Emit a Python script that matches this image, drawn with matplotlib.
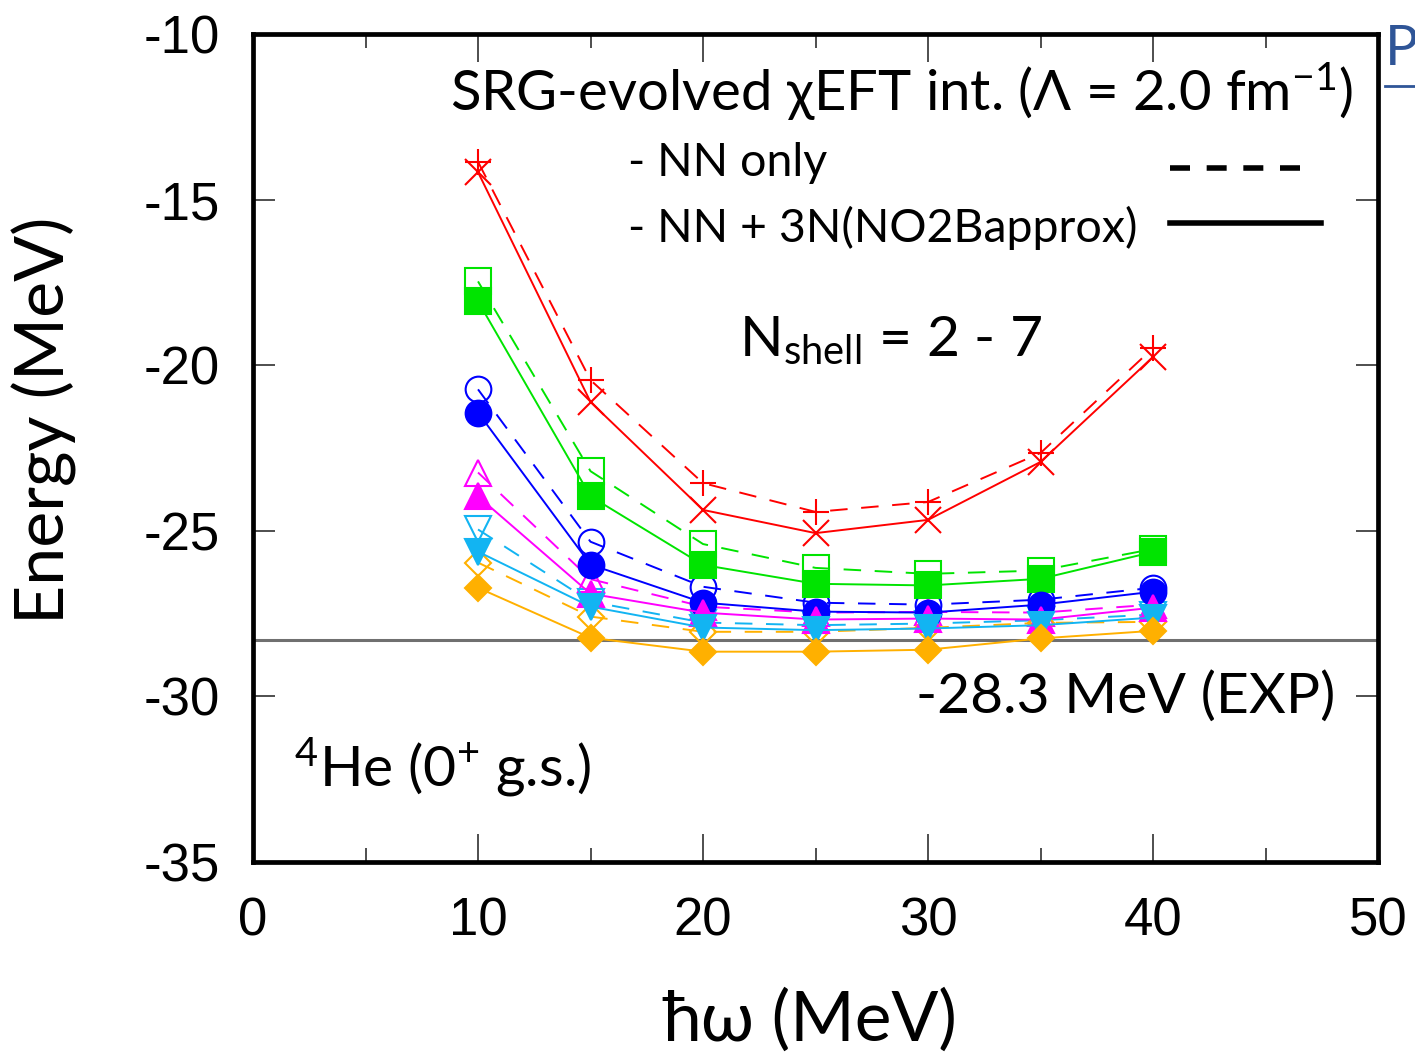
import matplotlib
matplotlib.use("Agg")
import matplotlib.pyplot as plt
from matplotlib.lines import Line2D

plt.rcParams["mathtext.fontset"] = "custom"
plt.rcParams["mathtext.rm"] = "Lato"
plt.rcParams["mathtext.it"] = "Lato:italic"
plt.rcParams["mathtext.bf"] = "Lato:bold"
plt.rcParams["axes.unicode_minus"] = False

TEXT_FONT = ["Lato", "DejaVu Sans"]
TICK_FONT = ["Liberation Sans", "DejaVu Sans"]

# hbar*omega (MeV)
hw = [10, 15, 20, 25, 30, 35, 40]

# NN only (dashed, open markers) and NN + 3N (solid, filled markers), Nshell = 2..7
nn_2 = [-13.86, -20.45, -23.56, -24.43, -24.13, -22.65, -19.48]
n3_2 = [-14.17, -21.11, -24.37, -25.07, -24.67, -22.92, -19.75]
nn_3 = [-17.47, -23.20, -25.40, -26.12, -26.30, -26.20, -25.55]
n3_3 = [-18.07, -23.96, -26.03, -26.60, -26.65, -26.45, -25.64]
nn_4 = [-20.73, -25.33, -26.69, -27.17, -27.23, -27.08, -26.72]
n3_4 = [-21.43, -26.02, -27.17, -27.44, -27.47, -27.23, -26.84]
nn_5 = [-23.24, -26.46, -27.29, -27.47, -27.45, -27.47, -27.23]
n3_5 = [-23.96, -26.90, -27.47, -27.68, -27.65, -27.68, -27.32]
nn_6 = [-24.96, -27.14, -27.77, -27.85, -27.80, -27.70, -27.53]
n3_6 = [-25.63, -27.29, -27.92, -28.00, -27.95, -27.85, -27.62]
nn_7 = [-25.96, -27.59, -28.05, -28.05, -27.93, -27.78, -27.75]
n3_7 = [-26.72, -28.23, -28.65, -28.65, -28.59, -28.25, -28.02]

exp_energy = -28.3

shells = [
    (nn_2, n3_2, "#ff0000", "+", "x"),
    (nn_3, n3_3, "#00e400", "s", "s"),
    (nn_4, n3_4, "#0000ff", "o", "o"),
    (nn_5, n3_5, "#ff00ff", "^", "^"),
    (nn_6, n3_6, "#12b4f2", "v", "v"),
    (nn_7, n3_7, "#ffb000", "D", "D"),
]

fig = plt.figure(figsize=(14.15, 10.53), dpi=100)
ax = fig.add_axes([0.1788, 0.1814, 0.7951, 0.7863])

ax.axhline(exp_energy, color="#707070", lw=2.2, zorder=1)

dash = (0, (9, 7))
for nn, n3, color, m_nn, m_n3 in shells:
    ms = 13 if m_nn == "D" else 18.5
    ax.plot(hw, nn, color=color, lw=1.4, linestyle=dash, marker=m_nn, ms=ms,
            mfc="none", mec=color, mew=1.5, zorder=2)
    ms = 13 if m_n3 == "D" else 18.5
    ax.plot(hw, n3, color=color, lw=1.4, linestyle="-", marker=m_n3, ms=ms,
            mfc=color, mec=color, mew=1.5, zorder=3)

ax.set_xlim(0, 50)
ax.set_ylim(-35, -10)
ax.set_xticks(range(0, 51, 10))
ax.set_xticks(range(5, 50, 10), minor=True)
ax.set_yticks(range(-35, -9, 5))
ax.tick_params(axis="both", which="both", direction="in", top=True, right=True,
               color="#404040", width=1.3)
ax.tick_params(axis="x", which="major", length=20, pad=25)
ax.tick_params(axis="x", which="minor", length=10)
ax.tick_params(axis="y", which="major", length=16, pad=24)
for lab in ax.get_xticklabels() + ax.get_yticklabels():
    lab.set_fontfamily(TICK_FONT)
    lab.set_fontsize(38)
for sp in ax.spines.values():
    sp.set_linewidth(3.4)

ax.set_ylabel("Energy (MeV)", family=TEXT_FONT, fontsize=49, va="center")
ax.yaxis.set_label_coords(-0.185, 0.533)
ax.set_xlabel("ħω (MeV)", family=TEXT_FONT, fontsize=50, va="center")
ax.xaxis.set_label_coords(0.495, -0.191)

ax.text(0.175, 0.93, r"SRG-evolved χEFT int. (Λ = 2.0 fm$^{\mathrm{-1}}$)",
        transform=ax.transAxes, family=TEXT_FONT, fontsize=40.5, va="center", ha="left")
ax.text(0.333, 0.844, "- NN only", transform=ax.transAxes, family=TEXT_FONT,
        fontsize=33.5, va="center", ha="left")
ax.text(0.333, 0.766, "- NN + 3N(NO2Bapprox)", transform=ax.transAxes, family=TEXT_FONT,
        fontsize=33.5, va="center", ha="left")
ax.add_line(Line2D([0.815, 0.937], [0.838, 0.838], transform=ax.transAxes,
                   color="black", lw=4, linestyle=(0, (3.6, 3.0))))
ax.add_line(Line2D([0.815, 0.949], [0.772, 0.772], transform=ax.transAxes,
                   color="black", lw=4))

ax.text(0.432, 0.63, r"N$_{\mathrm{shell}}$ = 2 - 7", transform=ax.transAxes,
        family=TEXT_FONT, fontsize=41, va="center", ha="left")
ax.text(0.962, 0.199, "-28.3 MeV (EXP)", transform=ax.transAxes, family=TEXT_FONT,
        fontsize=41, va="center", ha="right")
ax.text(0.036, 0.1135, r"$^{\mathrm{4}}$He (0$^{\mathrm{+}}$ g.s.)", transform=ax.transAxes,
        family=TEXT_FONT, fontsize=41, va="center", ha="left")

# fragment of slide title at the right edge (cut off in the original too)
fig.text(0.979, 0.953, "P", family=TEXT_FONT, fontsize=40, color="#2f5597",
         va="center", ha="left")
fig.add_artist(Line2D([0.979, 1.0], [0.918, 0.918], transform=fig.transFigure,
                      color="#2f5597", lw=2))

fig.savefig("out.png", dpi=100)
